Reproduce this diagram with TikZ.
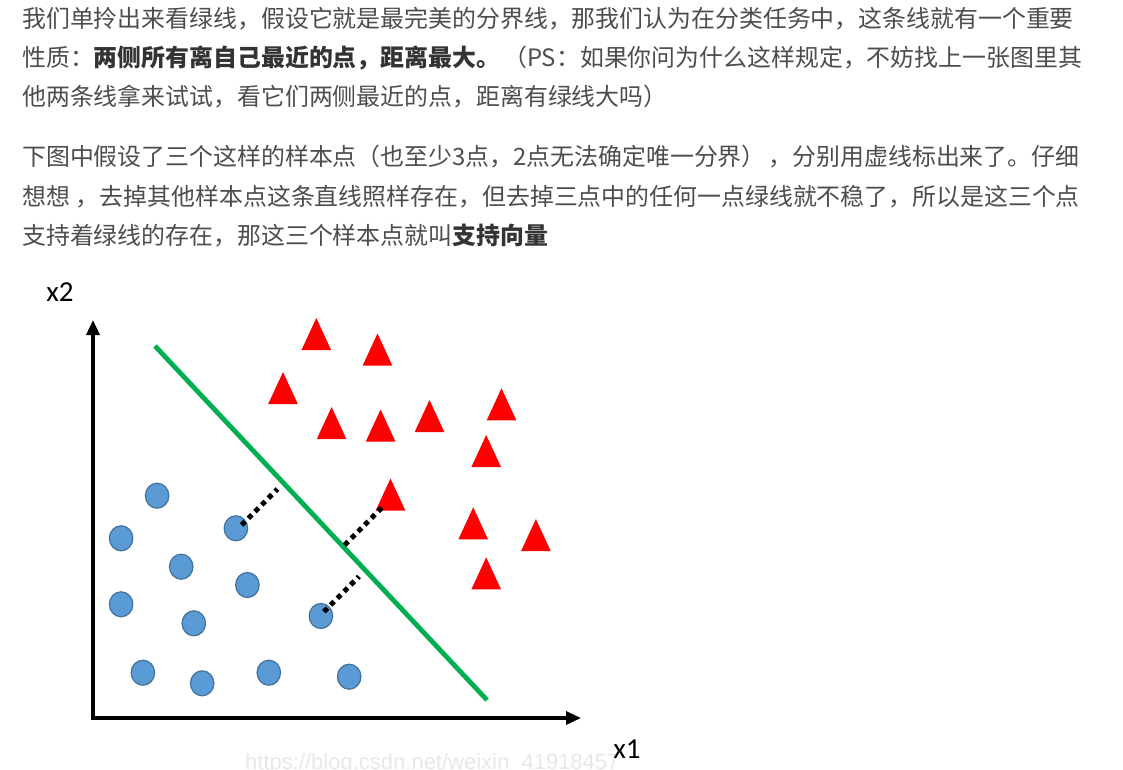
\documentclass[tikz,border=0pt]{standalone}
\usepackage{fontspec}
\usetikzlibrary{arrows.meta,shapes.geometric}
\newfontfamily\cjk{Noto Sans CJK SC}
\newfontfamily\lab{Carlito}
\newfontfamily\wm{Liberation Sans}
\definecolor{txt}{HTML}{4D4D4D}
\definecolor{btxt}{HTML}{333333}
\definecolor{dotblue}{HTML}{5B9BD5}
\definecolor{dotedge}{HTML}{41719C}
\definecolor{sepgreen}{HTML}{00B050}
\definecolor{wmgray}{HTML}{E8E8E8}
\newcommand\triat[3]{%
  \coordinate (#1) at (#2,#3);
  \fill[red] (#2,#3-16) -- (#2+14.8,#3+16) -- (#2-14.8,#3+16) -- cycle;}
\begin{document}
\begin{tikzpicture}[x=1pt,y=-1pt,
  para/.style={anchor=west,inner sep=0pt,font=\cjk\fontsize{23.9}{26}\selectfont,text=txt},
  ptblue/.style={ellipse,fill=dotblue,draw=dotedge,line width=1.2pt,minimum width=23.5pt,minimum height=25pt,inner sep=0pt},
  axis/.style={line width=3.5pt,black,line join=miter},
  sv/.style={line width=5pt,dash pattern=on 5pt off 4.5pt,black},
  axlab/.style={font=\lab\fontsize{29}{30}\selectfont,inner sep=0pt}]
\useasboundingbox (0,0) rectangle (1123,770);
\fill[white] (0,0) rectangle (1123,770);
% paragraph 1
\node[para] (p1a) at (22,19) {我们单拎出来看绿线，假设它就是最完美的分界线，那我们认为在分类任务中，这条线就有一个重要};
\node[para] (p1b) at (22,58) {性质：{\bfseries\color{btxt}两侧所有离自己最近的点，距离最大。}\hspace{3pt}（PS：如果你问为什么这样规定，不妨找上一张图里其};
\node[para] (p1c) at (22,97) {他两条线拿来试试，看它们两侧最近的点，距离有绿线大吗）};
% paragraph 2
\node[para] (p2a) at (22,157) {下图中假设了三个这样的样本点（也至少3点，2点无法确定唯一分界）\hspace{3pt}，分别用虚线标出来了。仔细};
\node[para] (p2b) at (22,197) {想想\hspace{6pt}，去掉其他样本点这条直线照样存在，但去掉三点中的任何一点绿线就不稳了，所以是这三个点};
\node[para] (p2c) at (22,236) {支持着绿线的存在，那这三个样本点就叫{\bfseries\color{btxt}支持向量}};
% watermark
\begin{scope}
\clip (0,0) rectangle (1123,770);
\node[anchor=base west,inner sep=0pt,text=wmgray,font=\wm\fontsize{22}{24}\selectfont] (wm) at (245,769) {https://blog.csdn.net/weixin\_41918457};
\end{scope}
% axes
\coordinate (ytip) at (93,320);
\coordinate (orig) at (93,718);
\coordinate (xtip) at (581,718);
\draw[axis,{Triangle[length=15pt,width=13pt]}-{Triangle[length=15pt,width=13pt]}] (ytip) -- (orig) -- (xtip);
\node[axlab] (lx2) at (60,292) {x2};
\node[axlab] (lx1) at (627,749) {x1};
% triangles
\triat{t1}{316.3}{334}
\triat{t2}{377.5}{349.5}
\triat{t3}{283}{388}
\triat{t4}{331.6}{423}
\triat{t5}{380.6}{425.5}
\triat{t6}{429.5}{416}
\triat{t7}{501.5}{404.3}
\triat{t8}{486.2}{451}
\triat{t9}{390.5}{494.5}
\triat{t10}{473.2}{523.3}
\triat{t11}{535.9}{535}
\triat{t12}{486.2}{573.3}
% circles
\node[ptblue] (c1) at (157.1,495.7) {};
\node[ptblue] (c2) at (121.1,538.3) {};
\node[ptblue] (c3) at (235.9,528.3) {};
\node[ptblue] (c4) at (181.2,566.7) {};
\node[ptblue] (c5) at (247.4,585) {};
\node[ptblue] (c6) at (121.1,604.3) {};
\node[ptblue] (c7) at (193.8,623.3) {};
\node[ptblue] (c8) at (320.9,616) {};
\node[ptblue] (c9) at (142.9,672.7) {};
\node[ptblue] (c10) at (202.2,683.3) {};
\node[ptblue] (c11) at (268.8,672.7) {};
\node[ptblue] (c12) at (349.2,676.7) {};
% separating line
\coordinate (gtop) at (155,346);
\coordinate (gbot) at (487,700);
\draw[sepgreen,line width=4.8pt] (gtop) -- (gbot);
% support vector distances
\coordinate (s1a) at (241.6,525);
\coordinate (s1b) at (277.5,489);
\coordinate (s2a) at (323.9,611.7);
\coordinate (s2b) at (359,576.5);
\coordinate (s3a) at (344.6,545);
\coordinate (s3b) at (382,507.5);
\draw[sv] (s1a) -- (s1b);
\draw[sv] (s2a) -- (s2b);
\draw[sv] (s3a) -- (s3b);
\end{tikzpicture}
\end{document}
